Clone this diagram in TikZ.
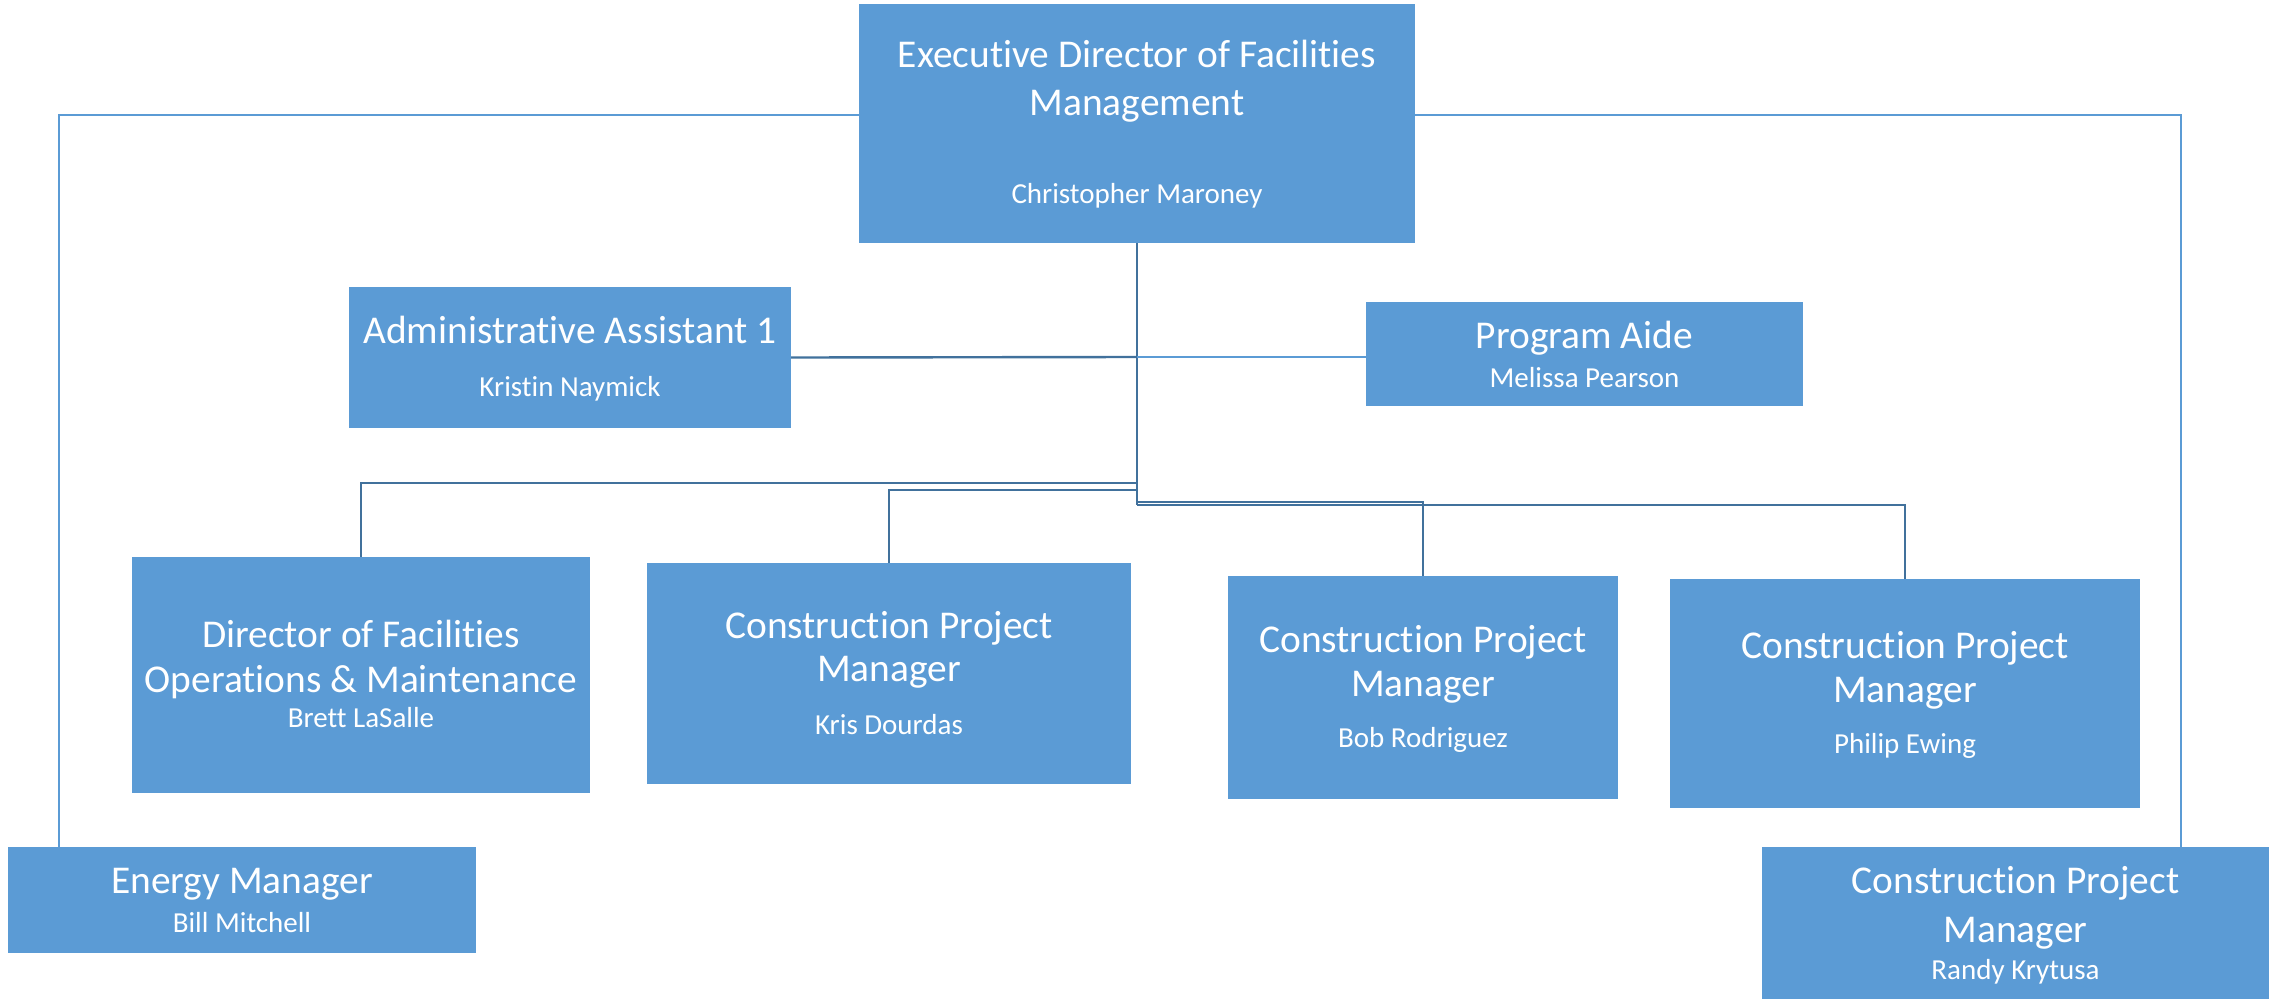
\documentclass[tikz,border=0pt]{standalone}
\usepackage{fontspec}
\setmainfont{Carlito}[Ligatures={NoCommon}]
\usepackage{xcolor}
\definecolor{unitblue}{HTML}{5B9BD5}
\definecolor{linkblue}{HTML}{41719C}
\usepackage{tikz}
\usetikzlibrary{positioning}

\tikzset{
  unit/.style={rectangle,fill=unitblue,inner sep=0pt,outer sep=0pt},
  ttl/.style={text=white,anchor=base,inner sep=0pt,font=\fontsize{19.7}{23}\selectfont},
  who/.style={text=white,anchor=base,inner sep=0pt,font=\fontsize{14.5}{17}\selectfont},
  link/.style={draw=linkblue,line width=1.2pt},
  thinlink/.style={draw=unitblue,line width=0.6pt}
}

\begin{document}
\begin{tikzpicture}[x=0.5pt,y=-0.5pt]
    \useasboundingbox (0,0) rectangle (2280,1001);

    % units
    \node[unit,minimum width=278pt,minimum height=119.5pt] (exec) at (1137,123.5) {};
    \node[unit,minimum width=221pt,minimum height=70.5pt] (admin) at (570,357.5) {};
    \node[unit,minimum width=218.5pt,minimum height=52pt] (aide) at (1584.5,354) {};
    \node[unit,minimum width=229pt,minimum height=118pt] (dir) at (361,675) {};
    \node[unit,minimum width=242pt,minimum height=110.5pt] (cpma) at (889,673.5) {};
    \node[unit,minimum width=195pt,minimum height=111.5pt] (cpmb) at (1423,687.5) {};
    \node[unit,minimum width=235pt,minimum height=114.5pt] (cpmc) at (1905,693.5) {};
    \node[unit,minimum width=234pt,minimum height=53pt] (energy) at (242,900) {};
    \node[unit,minimum width=253.5pt,minimum height=76pt] (cpmd) at (2015.5,923) {};

    % texts
    \node[ttl] (exec-a) at (1137,67) {Executive Director of Facilities};
    \node[ttl] (exec-b) at (1137,115) {Management};
    \node[who] (exec-n) at (1137,203) {Christopher Maroney};

    \node[ttl] (admin-a) at (570,343) {Administrative Assistant 1};
    \node[who] (admin-n) at (570,396) {Kristin Naymick};

    \node[ttl] (aide-a) at (1584.5,348) {Program Aide};
    \node[who] (aide-n) at (1584.5,387) {Melissa Pearson};

    \node[ttl] (dir-a) at (361,647) {Director of Facilities};
    \node[ttl] (dir-b) at (361,692) {Operations \& Maintenance};
    \node[who] (dir-n) at (361,727) {Brett LaSalle};

    \node[ttl] (cpma-a) at (889,638) {Construction Project};
    \node[ttl] (cpma-b) at (889,681) {Manager};
    \node[who] (cpma-n) at (889,734) {Kris Dourdas};

    \node[ttl] (cpmb-a) at (1423,652) {Construction Project};
    \node[ttl] (cpmb-b) at (1423,696) {Manager};
    \node[who] (cpmb-n) at (1423,747) {Bob Rodriguez};

    \node[ttl] (cpmc-a) at (1905,658) {Construction Project};
    \node[ttl] (cpmc-b) at (1905,702) {Manager};
    \node[who] (cpmc-n) at (1905,753) {Philip Ewing};

    \node[ttl] (energy-a) at (242,893) {Energy Manager};
    \node[who] (energy-n) at (242,932) {Bill Mitchell};

    \node[ttl] (cpmd-a) at (2015.5,893) {Construction Project};
    \node[ttl] (cpmd-b) at (2015.5,942) {Manager};
    \node[who] (cpmd-n) at (2015.5,979) {Randy Krytusa};

    % connectors
    \coordinate (hub) at (1137,357);
    \coordinate (busa) at (1137,483);
    \coordinate (busb) at (1137,490);
    \coordinate (busc) at (1137,502);
    \coordinate (busd) at (1137,505);
    \coordinate (outl) at (59,115);
    \coordinate (outr) at (2181,115);

    \draw[link] (exec.south) -- (busd);
    \draw[link] (admin.east) -- (hub);
    \draw[thinlink] (hub) -- (hub -| aide.west);
    \draw[link] (busa) -| (dir.north);
    \draw[link] (busb) -| (cpma.north);
    \draw[link] (busc) -| (cpmb.north);
    \draw[link] (busd) -| (cpmc.north);

    \draw[thinlink] (exec.west |- outl) -- (outl) -- (outl |- energy.north);
    \draw[thinlink] (exec.east |- outr) -- (outr) -- (outr |- cpmd.north);
\end{tikzpicture}
\end{document}
